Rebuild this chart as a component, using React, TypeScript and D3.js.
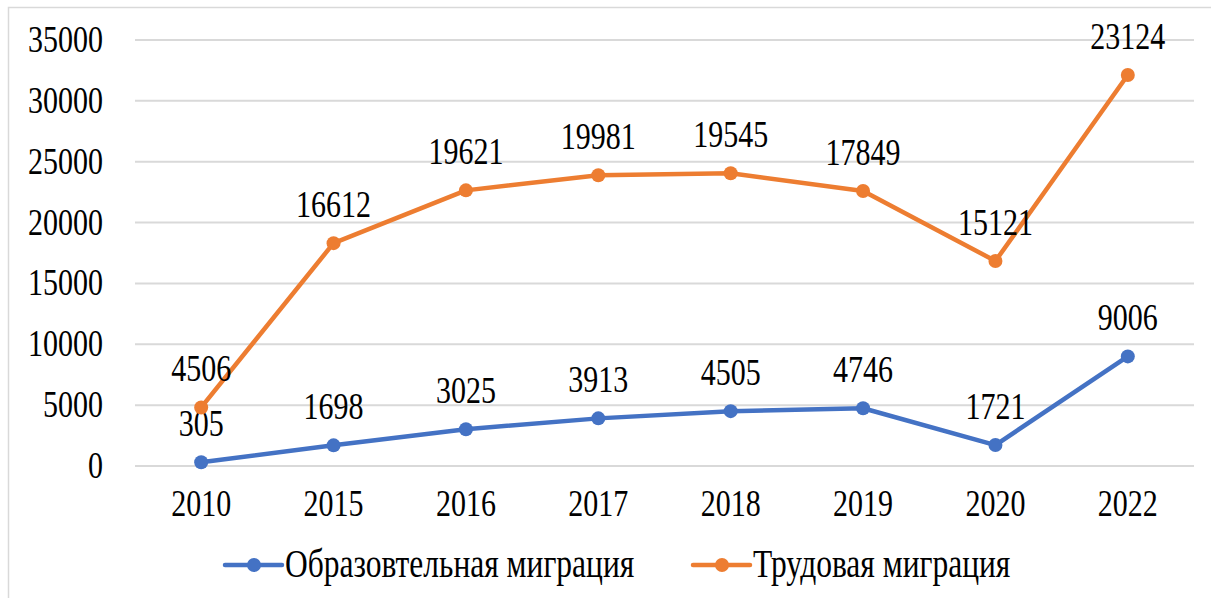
import React from "react";
import * as d3 from "d3";

const years = ["2010", "2015", "2016", "2017", "2018", "2019", "2020", "2022"];
const educational = [305, 1698, 3025, 3913, 4505, 4746, 1721, 9006];
const labour = [4506, 16612, 19621, 19981, 19545, 17849, 15121, 23124];
const yTicks = [0, 5000, 10000, 15000, 20000, 25000, 30000, 35000];
const seriesNames = ["Образовтельная миграция", "Трудовая миграция"];
const colors = ["#4472C4", "#ED7D31"];

const W = 1211;
const H = 598;
const FONT = "Liberation Serif, Times New Roman, Times, serif";
const FS = 30;
const SY = 1.27;

function T({ x, y, anchor = "middle", size = FS, children }: any) {
  return (
    <text
      transform={`translate(${x},${y}) scale(1,${SY})`}
      textAnchor={anchor}
      style={{ fontFamily: FONT, fontSize: size }}
      fill="#000"
    >
      {children}
    </text>
  );
}

export default function App() {
  const x = d3.scalePoint<string>().domain(years).range([135, 1194]).padding(0.5);
  const y = d3.scaleLinear().domain([0, 35000]).range([466, 40]);
  const stacked = labour.map((v, i) => v + educational[i]);
  const series = [educational, stacked];
  const labels = [educational, labour];
  const line = d3
    .line<number>()
    .x((_, i) => x(years[i])!)
    .y((d) => y(d));

  const legendItems = [
    { lx: 225, tx: 285 },
    { lx: 693, tx: 753 },
  ];

  return (
    <div style={{ position: "fixed", left: 0, top: 0 }}>
      <svg width={W} height={H} style={{ display: "block", background: "#fff" }}>
        <rect x={8.5} y={7.5} width={1300} height={700} fill="#fff" stroke="#d9d9d9" strokeWidth={1.5} />
        {yTicks.map((t) => (
          <g key={t}>
            <line x1={135} x2={1194} y1={y(t)} y2={y(t)} stroke="#d9d9d9" strokeWidth={2} />
            <T x={103} y={y(t) + 12} anchor="end">
              {t}
            </T>
          </g>
        ))}
        {years.map((yr) => (
          <T key={yr} x={x(yr)!} y={516}>
            {yr}
          </T>
        ))}
        {series.map((s, si) => (
          <g key={si}>
            <path d={line(s)!} fill="none" stroke={colors[si]} strokeWidth={4.5} strokeLinejoin="round" strokeLinecap="round" />
            {s.map((v, i) => (
              <circle key={i} cx={x(years[i])!} cy={y(v)} r={7} fill={colors[si]} />
            ))}
            {s.map((v, i) => (
              <T key={"l" + i} x={x(years[i])!} y={y(v) - 26}>
                {labels[si][i]}
              </T>
            ))}
          </g>
        ))}
        {legendItems.map((it, i) => (
          <g key={i}>
            <line x1={it.lx} x2={it.lx + 57} y1={565} y2={565} stroke={colors[i]} strokeWidth={4.5} strokeLinecap="round" />
            <circle cx={it.lx + 29} cy={565} r={7} fill={colors[i]} />
            <T x={it.tx} y={577} anchor="start" size={31.5}>
              {seriesNames[i]}
            </T>
          </g>
        ))}
      </svg>
    </div>
  );
}
